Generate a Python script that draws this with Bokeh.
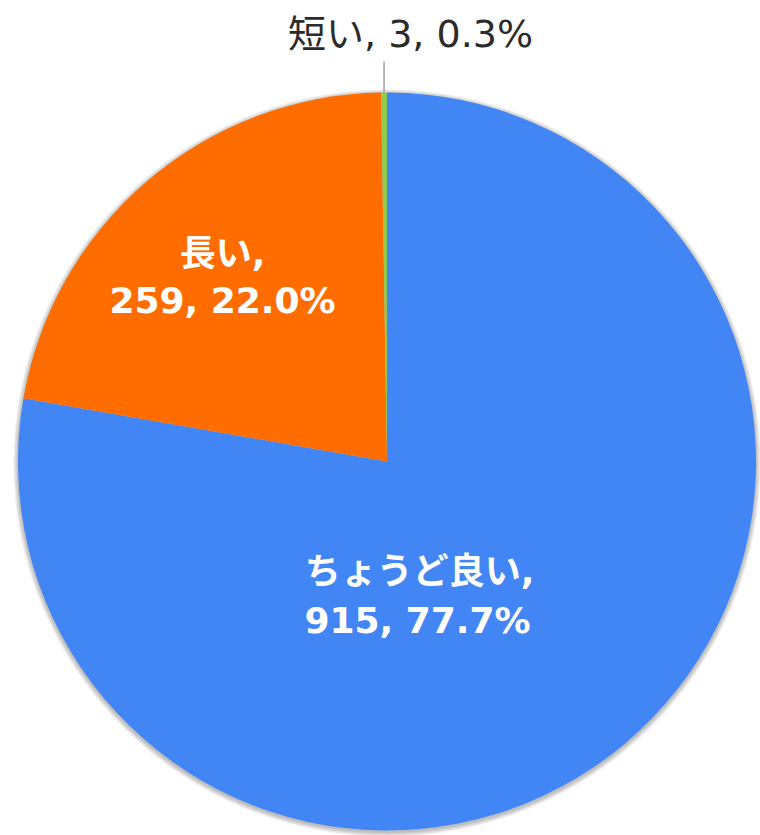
import numpy as np
from bokeh.plotting import figure
from bokeh.models import Range1d, ColumnDataSource
from bokeh.core.properties import value
from bokeh.embed import file_html
from bokeh.resources import INLINE

# ---- data ----
categories = ["ちょうど良い", "長い", "短い"]
counts = [915, 259, 3]
colors = ["#4285F4", "#FF6D01", "#8FCB4F"]

# ---- layout (pixel space of the plot) ----
W, H = 760, 835
cx, cy, R = 386.5, H - 461.0, 369.0

total = sum(counts)
frac = np.array(counts, dtype=float) / total
ends = np.cumsum(frac)
starts = ends - frac
start_angle = np.pi / 2 - 2 * np.pi * starts
end_angle = np.pi / 2 - 2 * np.pi * ends
pct = [f"{f * 100:.1f}%" for f in frac]

src = ColumnDataSource(dict(cat=categories, start=start_angle, end=end_angle, color=colors))

p = figure(width=W, height=H, output_backend="svg", toolbar_location=None,
           x_range=Range1d(0, W), y_range=Range1d(0, H), min_border=0)
p.axis.visible = False
p.grid.visible = False
p.outline_line_color = None
p.background_fill_color = "white"
p.border_fill_color = "white"

# soft shadow
for i in range(1, 8):
    p.circle(x=cx, y=cy - 1.5, radius=R + i * 0.7, fill_color="black",
             fill_alpha=0.04, line_color=None)

p.wedge(x=cx, y=cy, radius=R, start_angle="start", end_angle="end",
        direction="clock", fill_color="color", line_color=None, source=src)

# label positions (image px -> plot px)
def P(ix, iy):
    return ix, H - iy

font = value("DejaVu Sans, Noto Sans CJK JP")

# big slices: two-line bold white labels
big_pos = {0: [(419, 571), (417, 620)], 1: [(222, 253), (222, 300)]}
for idx, ((x1, y1), (x2, y2)) in big_pos.items():
    l1 = f"{categories[idx]},"
    l2 = f"{counts[idx]}, {pct[idx]}"
    for (ix, iy), t in (((x1, y1), l1), ((x2, y2), l2)):
        px, py = P(ix, iy)
        p.text(x=[px], y=[py], text=[t], text_font=font, text_font_size="36px",
               text_font_style="bold", text_color="white",
               text_align="center", text_baseline="middle")

# small slice: outside label with leader line
mid_small = (start_angle[2] + end_angle[2]) / 2
lx = cx + R * np.cos(mid_small)
ly = cy + R * np.sin(mid_small)
p.segment(x0=[lx], y0=[ly], x1=[lx], y1=[ly + 31], line_color="#A0A0A0", line_width=1.5)
sx, sy = P(410, 33)
p.text(x=[sx], y=[sy], text=[f"{categories[2]}, {counts[2]}, {pct[2]}"], text_font=font,
       text_font_size="38px", text_color="#2B2B2B",
       text_align="center", text_baseline="middle")

open("out.html", "w").write(file_html(p, INLINE))
